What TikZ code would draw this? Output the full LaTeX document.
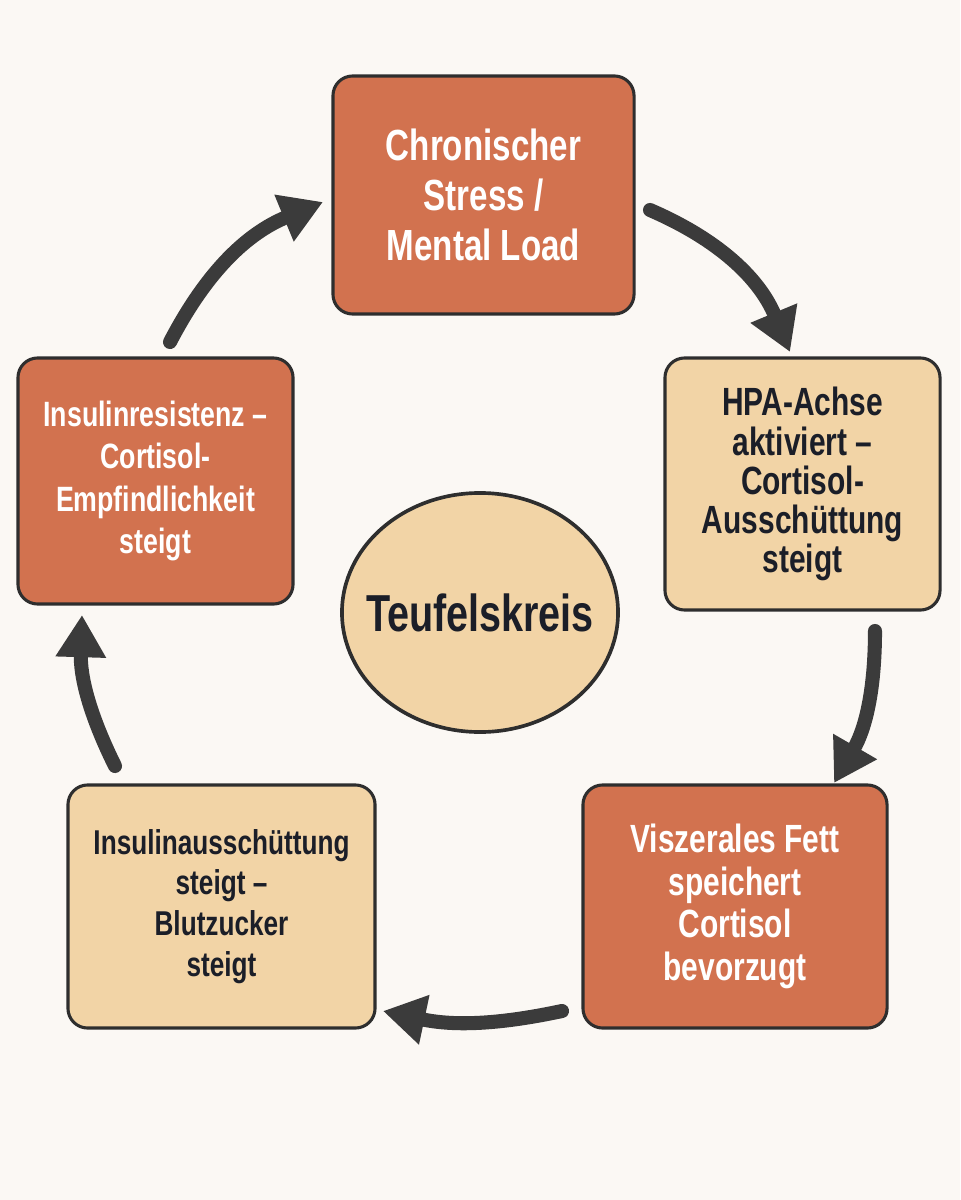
\documentclass[tikz,border=0pt]{standalone}
\usepackage{fontspec}
\setmainfont{Liberation Sans}[FakeStretch=0.76]
\usetikzlibrary{shapes.geometric,arrows.meta}
\definecolor{bgc}{HTML}{FBF8F4}
\definecolor{orangec}{HTML}{D2724F}
\definecolor{beigec}{HTML}{F2D4A6}
\definecolor{borderc}{HTML}{2E2E2E}
\definecolor{arrowc}{HTML}{3B3B3B}
\definecolor{darktext}{HTML}{1B1E28}
\tikzset{
  box/.style={draw=borderc, line width=2.2pt, rounded corners=14pt, align=center, inner sep=0pt, font=\bfseries},
  hot/.style={box, fill=orangec, text=white},
  warm/.style={box, fill=beigec, text=darktext},
  cyc/.style={draw=arrowc, line width=10pt, line cap=round, -{Triangle[length=30pt,width=34pt]}},
}
\begin{document}
\begin{tikzpicture}[x=0.025cm,y=0.025cm]
\fill[bgc] (0,0) rectangle (960,-1200);
\useasboundingbox (0,0) rectangle (960,-1200);

\node[hot, minimum width=7.525cm, minimum height=5.95cm, font=\bfseries\fontsize{31}{35.6}\selectfont]
  (stress) at (483.5,-195) {Chronischer\\Stress /\\Mental Load};
\node[warm, minimum width=6.875cm, minimum height=6.3cm, font=\bfseries\fontsize{28}{27.8}\selectfont]
  (hpa) at (802.5,-484) {HPA-Achse\\aktiviert –\\Cortisol-\\Ausschüttung\\steigt};
\node[hot, minimum width=7.6cm, minimum height=6.075cm, font=\bfseries\fontsize{28}{30.4}\selectfont]
  (fett) at (735,-906.5) {Viszerales Fett\\speichert\\Cortisol\\bevorzugt};
\node[warm, minimum width=7.675cm, minimum height=6.075cm, font=\bfseries\fontsize{24.5}{29}\selectfont]
  (insulin) at (221.5,-906.5) {Insulinausschüttung\\steigt –\\Blutzucker\\steigt};
\node[hot, minimum width=6.875cm, minimum height=6.15cm, font=\bfseries\fontsize{25}{30}\selectfont]
  (resist) at (155.5,-481) {Insulinresistenz –\\Cortisol-\\Empfindlichkeit\\steigt};
\node[ellipse, draw=borderc, line width=2.6pt, fill=beigec, inner sep=0pt,
  minimum width=6.9cm, minimum height=5.975cm] (kreis) at (480,-612.5) {};
\node[text=darktext, font=\bfseries\fontsize{37}{40}\selectfont, inner sep=0pt]
  (kreistext) at (kreis.center) {Teufelskreis};

\coordinate (a1s) at (650,-210);
\coordinate (a1e) at (790,-352);
\coordinate (a2s) at (875,-631);
\coordinate (a2e) at (834,-783);
\coordinate (a3s) at (562,-1011);
\coordinate (a3e) at (383,-1011);
\coordinate (a4s) at (115,-766);
\coordinate (a4e) at (82,-615);
\coordinate (a5s) at (170,-342);
\coordinate (a5e) at (323,-202);

\draw[cyc] (a1s) to[bend left=22] (a1e);
\draw[cyc] (a2s) to[bend left=15] (a2e);
\draw[cyc] (a3s) to[bend left=12] (a3e);
\draw[cyc] (a4s) to[bend left=14] (a4e);
\draw[cyc] (a5s) to[bend left=20] (a5e);
\end{tikzpicture}
\end{document}
